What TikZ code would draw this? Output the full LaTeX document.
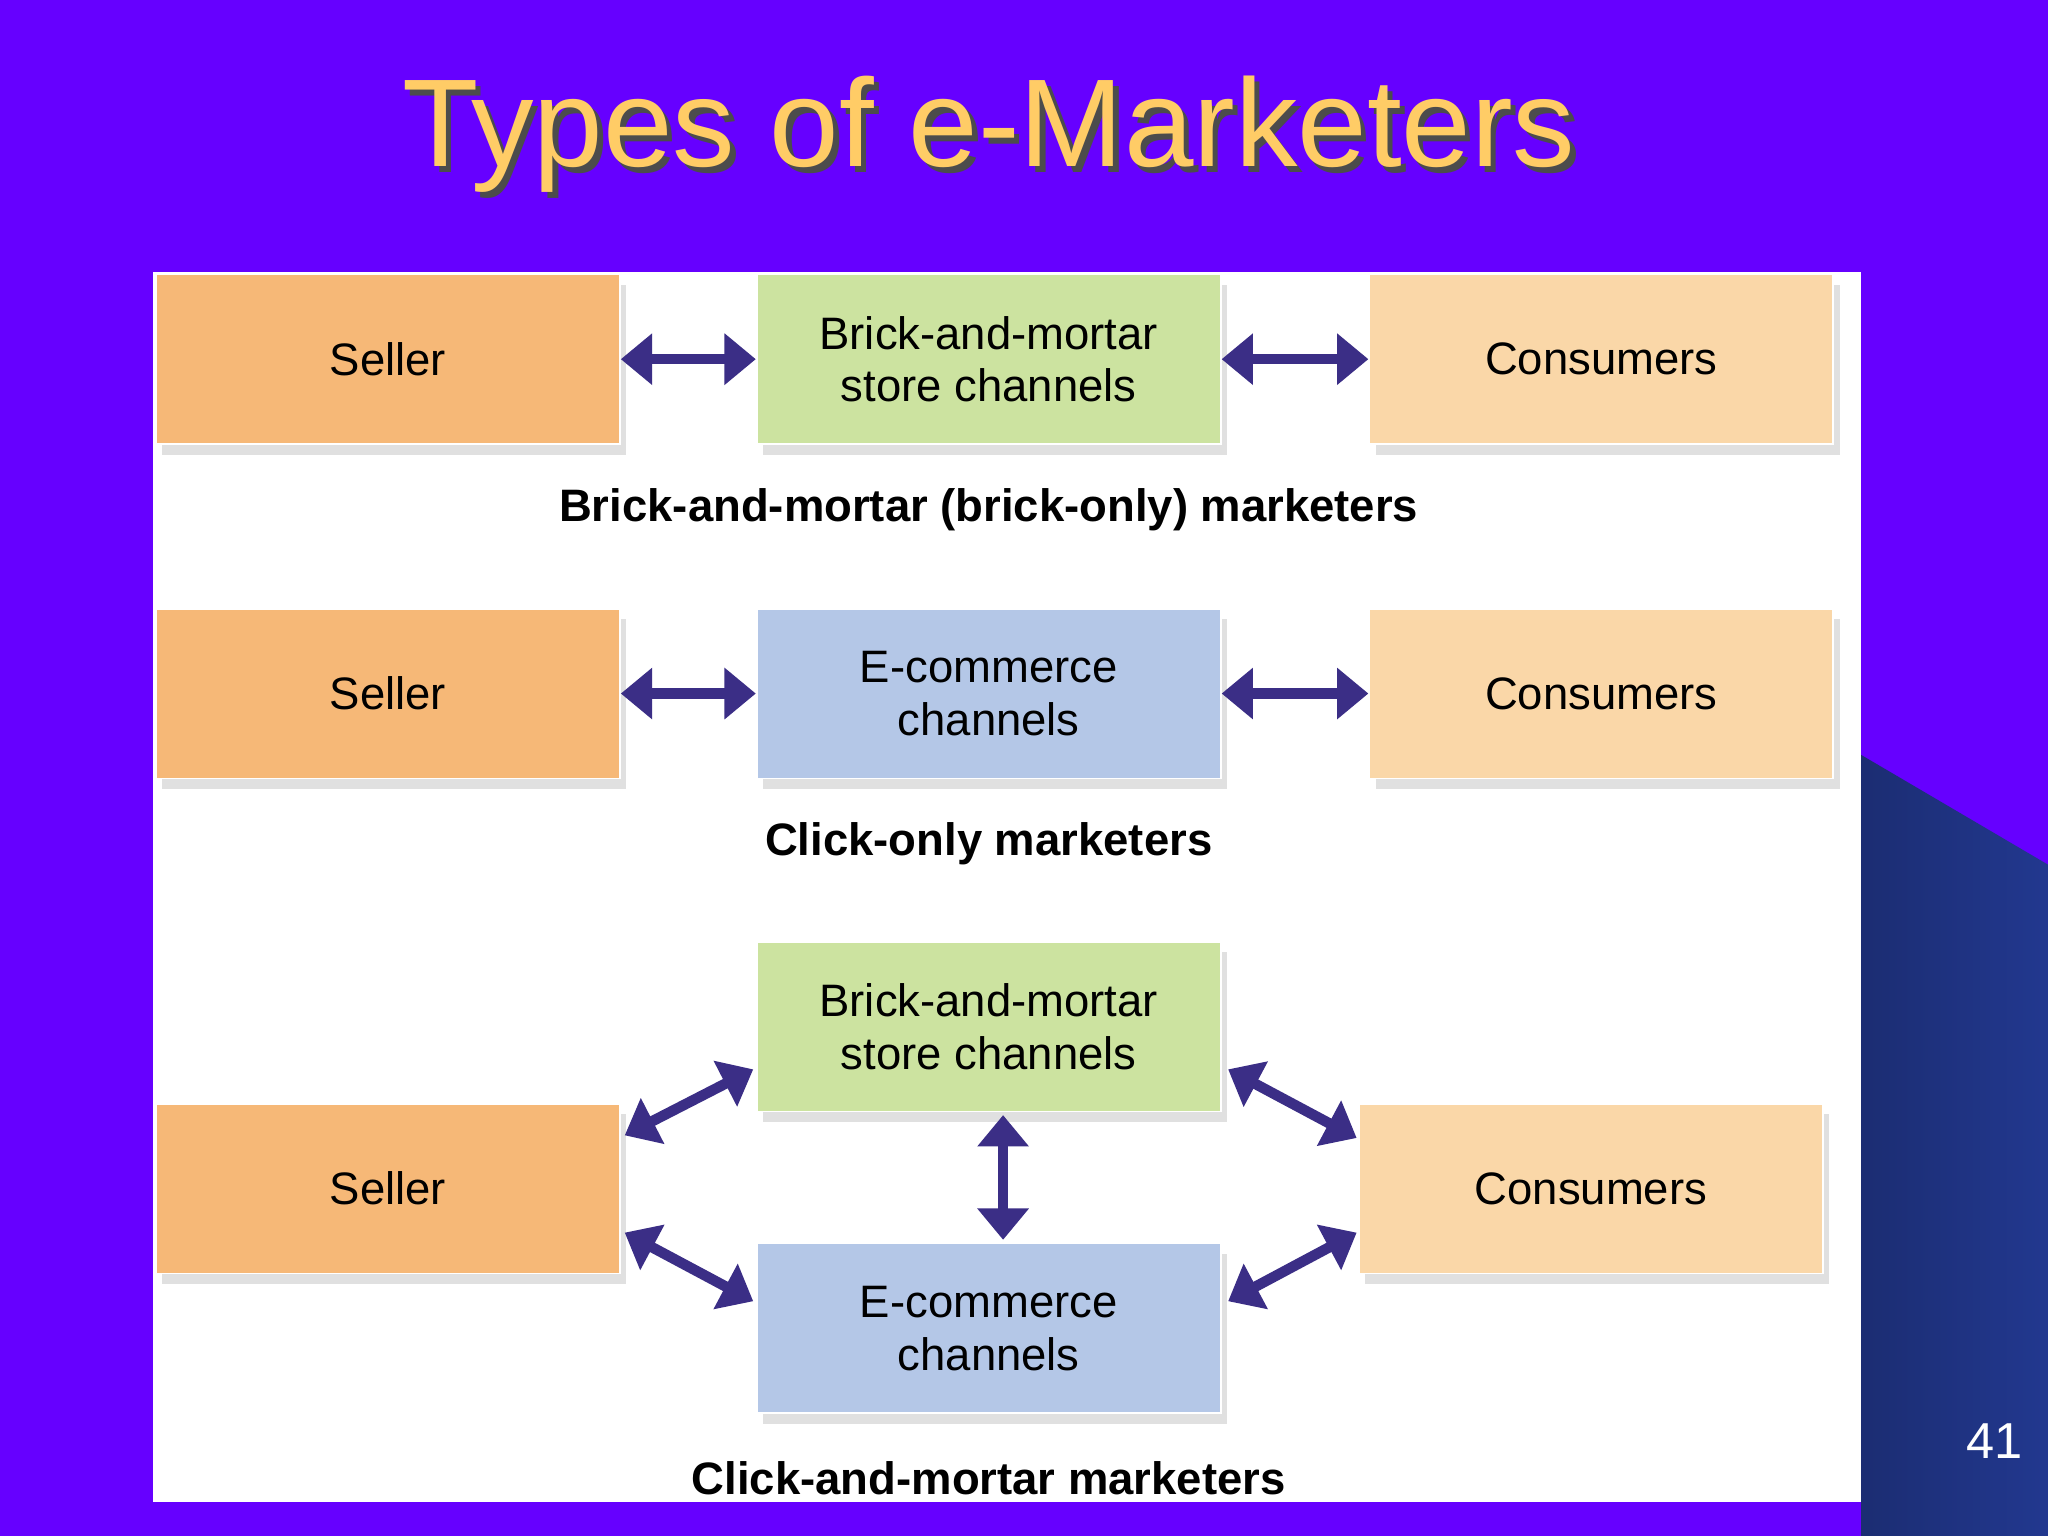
\documentclass[tikz,border=0pt]{standalone}
\usepackage{fontspec}
\setmainfont{Liberation Sans}
\usetikzlibrary{arrows.meta,calc}
\definecolor{bgv}{HTML}{6600FF}
\definecolor{ttl}{HTML}{FFCC66}
\definecolor{arr}{HTML}{3B2E86}
\definecolor{cseller}{HTML}{F6B877}
\definecolor{cbm}{HTML}{CCE3A0}
\definecolor{cec}{HTML}{B4C7E7}
\definecolor{ccons}{HTML}{FAD7A8}
\definecolor{blu}{HTML}{22388F}
\begin{document}
\begin{tikzpicture}[x=0.01cm,y=-0.01cm,
 box/.style={minimum width=3.55cm,minimum height=1.3cm,align=center,font=\fontsize{9.9}{11.5}\selectfont,inner sep=0pt,
   draw=white,line width=0.4pt,
   preaction={fill=black!20,opacity=0.6,transform canvas={xshift=0.05cm,yshift=-0.08cm}}},
 lbl/.style={font=\bfseries\fontsize{9.9}{11}\selectfont},
 dbl/.style={draw=arr,line width=0.08cm,{Triangle[length=0.24cm,width=0.38cm]}-{Triangle[length=0.24cm,width=0.38cm]}}]
\useasboundingbox (0,0) rectangle (1568,1176);
\fill[bgv] (0,0) rectangle (1568,1176);
\shade[left color=blu!80!black,right color=blu] (1425,578) -- (1568,662) -- (1568,1176) -- (1425,1176) -- cycle;
\fill[white] (117,208) rectangle (1425,1150);
\node[font=\fontsize{27.2}{31}\selectfont,text=black!70] at (761,107) {Types of e-Marketers};
\node (title)[font=\fontsize{27.2}{31}\selectfont,text=ttl] at (757,103) {Types of e-Marketers};
\node (num)[text=white,font=\fontsize{11}{13}\selectfont] at (1527,1103) {41};
% row 1
\node (s1)[box,fill=cseller] at (297,275) {Seller};
\node (b1)[box,fill=cbm] at (757,275) {Brick-and-mortar\\store channels};
\node (c1)[box,fill=ccons] at (1226,275) {Consumers};
\node (l1)[lbl] at (757,390) {Brick-and-mortar (brick-only) marketers};
\draw[dbl] (s1.east) -- (b1.west);
\draw[dbl] (b1.east) -- (c1.west);
% row 2
\node (s2)[box,fill=cseller] at (297,531) {Seller};
\node (e2)[box,fill=cec] at (757,531) {E-commerce\\channels};
\node (c2)[box,fill=ccons] at (1226,531) {Consumers};
\node (l2)[lbl] at (757,646) {Click-only marketers};
\draw[dbl] (s2.east) -- (e2.west);
\draw[dbl] (e2.east) -- (c2.west);
% row 3
\node (b3)[box,fill=cbm] at (757,786) {Brick-and-mortar\\store channels};
\node (e3)[box,fill=cec] at (757,1017) {E-commerce\\channels};
\node (s3)[box,fill=cseller] at (297,910) {Seller};
\node (c3)[box,fill=ccons] at (1218,910) {Consumers};
\node (l3)[lbl] at (757,1132) {Click-and-mortar marketers};
\draw[dbl] ($(s3.north east)+(3,25)$) -- ($(b3.south west)+(-2,-33)$);
\draw[dbl] ($(s3.south east)+(3,-32)$) -- ($(e3.north west)+(-2,45)$);
\draw[dbl] ($(b3.south east)+(5,-33)$) -- ($(c3.north west)+(-1,27)$);
\draw[dbl] ($(e3.north east)+(5,45)$) -- ($(c3.south west)+(-1,-32)$);
\draw[dbl] ($(b3.south)+(11,2)$) -- ($(e3.north)+(11,-2)$);
\end{tikzpicture}
\end{document}
